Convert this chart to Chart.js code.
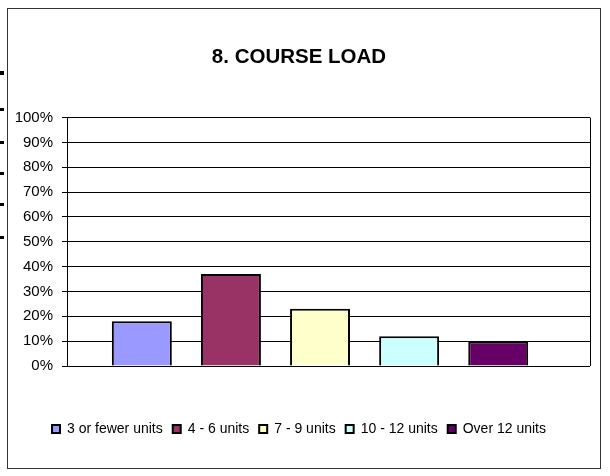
<!DOCTYPE html>
<html>
<head>
<meta charset="utf-8">
<script src="https://cdn.jsdelivr.net/npm/chart.js@4/dist/chart.umd.min.js"></script>
<style>
  html,body{margin:0;padding:0;background:#fff;}
  body{width:610px;height:476px;position:relative;overflow:hidden;}
  #frame{position:absolute;left:7px;top:8px;width:592px;height:459px;border:1px solid #333;}
  #wrap{position:absolute;left:0;top:0;width:592px;height:459px;}
  .tick{position:absolute;left:0;width:4px;height:3px;background:#000;}
</style>
</head>
<body>
<div class="tick" style="top:71px;height:4px"></div>
<div class="tick" style="top:108px"></div>
<div class="tick" style="top:141px"></div>
<div class="tick" style="top:172px"></div>
<div class="tick" style="top:203px"></div>
<div class="tick" style="top:236px"></div>
<div id="frame"><div id="wrap"><canvas id="c"></canvas></div></div>
<script>
const titulo = "8. COURSE LOAD";
const categorias = ["3 or fewer units","4 - 6 units","7 - 9 units","10 - 12 units","Over 12 units"];
const porcentajes = [18, 37, 23, 12, 10];
const colores = ["#9999FF","#993366","#FFFFCC","#CCFFFF","#660066"];
const yTicks = [0,10,20,30,40,50,60,70,80,90,100];

// x range in bar-index units, so the bar group sits where Excel put it
const xMin = -0.84, xMax = 5.03;

const fuente = "'Liberation Sans', Arial, sans-serif";

/* borde derecho del area de trazado */
const bordePlot = {
  id: 'bordePlot',
  afterDraw(chart){
    const {ctx, chartArea:a} = chart;
    ctx.save();
    ctx.strokeStyle = '#000';
    ctx.lineWidth = 1;
    ctx.beginPath();
    ctx.moveTo(Math.round(a.right)+0.5, a.top);
    ctx.lineTo(Math.round(a.right)+0.5, a.bottom);
    ctx.stroke();
    ctx.restore();
  }
};

const datasets = categorias.map((cat,i)=>({
  label: cat,
  data: [{x:i, y:porcentajes[i]}],
  backgroundColor: colores[i],
  borderColor: '#000',
  borderWidth: 2,
  grouped: false
}));

new Chart(document.getElementById('c'), {
  type: 'bar',
  data: { datasets },
  plugins: [bordePlot],
  options: {
    responsive: true,
    maintainAspectRatio: false,
    animation: false,
    datasets: { bar: { categoryPercentage: 1, barPercentage: 0.673 } },
    layout: { padding: { left: 0, right: 10, top: 0, bottom: 22 } },
    plugins: {
      title: {
        display: true, text: titulo, color: '#000',
        font: { family: fuente, size: 20.5, weight: 'bold' },
        padding: { top: 36, bottom: 48 }
      },
      legend: {
        position: 'bottom',
        labels: {
          color: '#000',
          font: { family: fuente, size: 14 },
          boxWidth: 8, boxHeight: 8, padding: 10
        }
      },
      tooltip: { enabled: false }
    },
    scales: {
      x: {
        type: 'linear', min: xMin, max: xMax, offset: false,
        afterBuildTicks(s){ s.ticks = categorias.map((c,i)=>({value:i})); },
        ticks: { display: false },
        grid: { display: false, offset: false },
        border: { display: false },
        afterFit(s){ s.height = 46; }
      },
      y: {
        min: 0, max: 100,
        afterBuildTicks(s){ s.ticks = yTicks.map(v=>({value:v})); },
        ticks: {
          color: '#000', padding: 9,
          font: { family: fuente, size: 15 },
          callback: v => v + '%'
        },
        grid: { color: '#000', lineWidth: 1, tickLength: 5 },
        border: { display: true, color: '#000', width: 1 },
        afterFit(s){ s.width = 59; }
      }
    }
  }
});
</script>
</body>
</html>
